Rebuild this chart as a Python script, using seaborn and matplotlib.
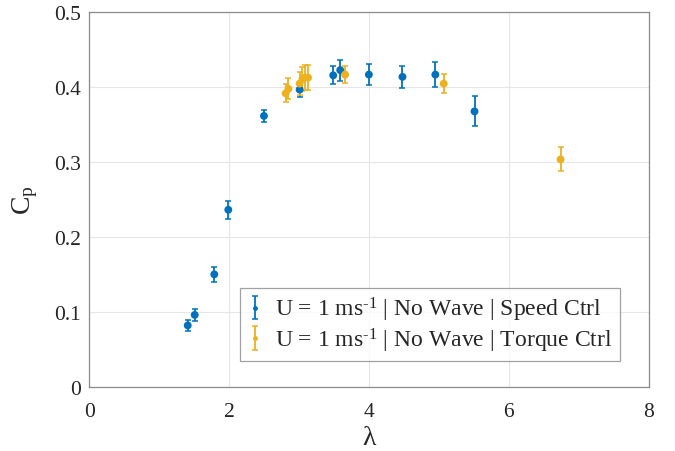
import matplotlib
matplotlib.use("Agg")
import matplotlib.pyplot as plt
import seaborn as sns
import pandas as pd

# Speed control series (blue)
speed_tsr = [1.41, 1.51, 1.79, 1.99, 2.50, 3.01, 3.49, 3.59, 4.00, 4.48, 4.95, 5.51]
speed_cp = [0.082, 0.096, 0.150, 0.236, 0.361, 0.396, 0.415, 0.422, 0.416, 0.413, 0.416, 0.367]
speed_err = [0.007, 0.008, 0.010, 0.012, 0.008, 0.010, 0.012, 0.014, 0.014, 0.015, 0.017, 0.020]

# Torque control series (orange)
torque_tsr = [2.81, 2.85, 3.01, 3.05, 3.09, 3.13, 3.66, 5.07, 6.74]
torque_cp = [0.391, 0.397, 0.404, 0.410, 0.412, 0.412, 0.416, 0.404, 0.303]
torque_err = [0.012, 0.014, 0.015, 0.016, 0.017, 0.017, 0.011, 0.013, 0.016]

labels = [r"U = 1 ms$^{\text{-1}}$ | No Wave | Speed Ctrl",
          r"U = 1 ms$^{\text{-1}}$ | No Wave | Torque Ctrl"]
colors = ["#0072BD", "#EDB120"]

sns.set_style("white")
plt.rcParams["font.family"] = ["Liberation Serif", "DejaVu Serif"]
plt.rcParams["mathtext.fontset"] = "custom"
plt.rcParams["mathtext.rm"] = "Liberation Serif"
plt.rcParams["mathtext.it"] = "Liberation Serif:italic"

df = pd.concat([
    pd.DataFrame({"tsr": speed_tsr, "cp": speed_cp, "series": labels[0]}),
    pd.DataFrame({"tsr": torque_tsr, "cp": torque_cp, "series": labels[1]}),
])

fig = plt.figure(figsize=(6.75, 4.52), dpi=100)
ax = fig.add_axes([0.132, 0.1416, 0.829, 0.8307])

# error bars first (small dot gives the legend look)
for x, y, e, lab, c in [(speed_tsr, speed_cp, speed_err, labels[0], colors[0]),
                        (torque_tsr, torque_cp, torque_err, labels[1], colors[1])]:
    ax.errorbar(x, y, yerr=e, fmt=".", color=c, ms=5, elinewidth=1.3,
                capsize=2, capthick=1.1, label=lab, zorder=3)

sns.scatterplot(data=df, x="tsr", y="cp", hue="series", palette=colors,
                s=32, edgecolor="none", legend=False, ax=ax, zorder=4)

ax.set_xlim(0, 8)
ax.set_ylim(0, 0.5)
ax.set_xticks([0, 2, 4, 6, 8])
ax.set_yticks([0, 0.1, 0.2, 0.3, 0.4, 0.5])
ax.set_yticklabels(["0", "0.1", "0.2", "0.3", "0.4", "0.5"])
ax.grid(True, color="#e6e6e6", linewidth=0.8)
ax.set_axisbelow(True)
for sp in ax.spines.values():
    sp.set_color("#8a8a8a")
    sp.set_linewidth(0.9)
ax.tick_params(direction="in", length=4, color="#8a8a8a", labelsize=15.5,
               labelcolor="#262626", pad=6)
ax.tick_params(axis="x", pad=11)

ax.set_xlabel("λ", fontsize=20, labelpad=3)
ax.set_ylabel(r"C$_\mathrm{p}$", fontsize=20, labelpad=10)

leg = ax.legend(loc="lower right", bbox_to_anchor=(0.948, 0.069), fontsize=17,
                frameon=True, fancybox=False, edgecolor="#8a8a8a",
                handlelength=0.7, handletextpad=0.5, borderpad=0.3,
                labelspacing=0.1, borderaxespad=0)
leg.get_frame().set_linewidth(0.9)

fig.savefig("out.png", dpi=100)
